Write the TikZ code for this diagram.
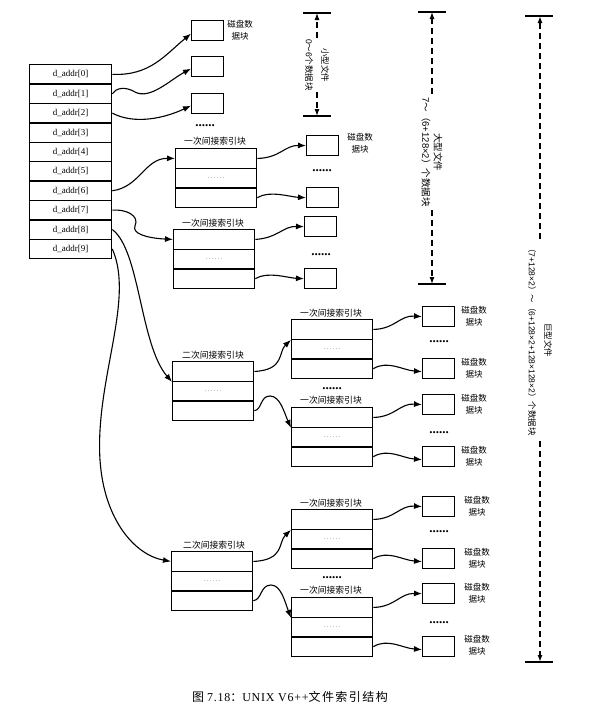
\documentclass[tikz,border=0pt]{standalone}
\usepackage{fontspec}
\setmainfont{Liberation Serif}
\newfontfamily\cjk{Noto Sans CJK SC}
\newfontfamily\latsans{Liberation Sans}
\newfontfamily\capcjk[LetterSpace=12]{Noto Sans CJK SC}
\newfontfamily\caplat[LetterSpace=6]{Liberation Serif}
\usetikzlibrary{arrows.meta}
\tikzset{
  box/.style={draw, line width=1.3pt, inner sep=0pt, anchor=north west},
  cell/.style={box, minimum width=82pt, minimum height=19.4pt, font=\fontsize{9}{10}\selectfont},
  rowc/.style={box, minimum width=81pt, minimum height=19.6pt, font=\fontsize{7}{7}\selectfont, text=gray},
  dblk/.style={box, minimum width=32pt, minimum height=20pt},
  conn/.style={line width=1.1pt, -{Latex[length=8pt,width=6pt]}},
  lbl/.style={font=\cjk\fontsize{8.8}{10}\selectfont, inner sep=0pt},
  dlbl/.style={font=\cjk\fontsize{8.5}{12}\selectfont, align=center, inner sep=0pt},
  bigdots/.style={font=\bfseries\fontsize{13}{13}\selectfont, inner sep=0pt},
  dimtxt/.style={font=\cjk\fontsize{8.5}{12}\selectfont, align=center, rotate=-90, inner sep=3pt},
  dim/.style={dash pattern=on 6pt off 4pt, line width=1.1pt, -{Latex[length=7pt,width=5pt]}},
  bar/.style={line width=1.3pt},
}
\newcommand\idxblk[3]{%
  \node[rowc] (#1-1) at (#2,#3) {};
  \node[rowc] (#1-2) at (#2,{#3+19.6}) {.\,.\,.\,.\,.\,.};
  \node[rowc] (#1-3) at (#2,{#3+39.2}) {};}
\begin{document}
\begin{tikzpicture}[x=1pt,y=-1pt]
\path[fill=white] (0,0) rectangle (602,720);
\useasboundingbox (0,0) rectangle (602,720);

% inode address table
\foreach \i in {0,...,9}
  \node[cell] (a\i) at (29,{64+19.4*\i}) {d\_addr[\i]};

% direct data blocks
\node[dblk] (b0) at (191,20) {};
\node[dblk] (b1) at (191,56) {};
\node[dblk] (b2) at (191,93) {};
\node[dlbl] (lb0) at (240,30) {磁盘数\\据块};
\node[bigdots] (dt0) at (205,126) {......};

% single indirect blocks
\node[lbl] (lI1) at (215,141) {一次间接索引块};
\idxblk{I1}{175}{148}
\node[dblk] (d10) at (306,135) {};
\node[dblk] (d11) at (306,187) {};
\node[dlbl] (ld10) at (360,143) {磁盘数\\据块};
\node[bigdots] (dt1) at (322,171) {......};

\node[lbl] (lI2) at (213,223) {一次间接索引块};
\idxblk{I2}{173}{229}
\node[dblk] (d20) at (304,216) {};
\node[dblk] (d21) at (304,268) {};
\node[bigdots] (dt2) at (321,255) {......};

% double indirect block 1
\node[lbl] (lD1) at (213,355) {二次间接索引块};
\idxblk{D1}{172}{361}
\node[lbl] (lF11) at (331,313) {一次间接索引块};
\idxblk{F11}{291}{319}
\node[lbl] (lF12) at (331,400) {一次间接索引块};
\idxblk{F12}{291}{407}
\node[bigdots] (dt3) at (332,389) {......};
\node[dblk] (e1) at (422,306) {};
\node[dblk] (e2) at (422,358) {};
\node[dblk] (e3) at (422,394) {};
\node[dblk] (e4) at (422,446) {};
\node[dlbl] (le1) at (474,316) {磁盘数\\据块};
\node[dlbl] (le2) at (474,368) {磁盘数\\据块};
\node[dlbl] (le3) at (474,404) {磁盘数\\据块};
\node[dlbl] (le4) at (474,456) {磁盘数\\据块};
\node[bigdots] (dt4) at (439,342) {......};
\node[bigdots] (dt5) at (439,433) {......};

% double indirect block 2
\node[lbl] (lD2) at (214,545) {二次间接索引块};
\idxblk{D2}{171}{551}
\node[lbl] (lF21) at (331,503) {一次间接索引块};
\idxblk{F21}{291}{509}
\node[lbl] (lF22) at (331,590) {一次间接索引块};
\idxblk{F22}{291}{597}
\node[bigdots] (dt6) at (332,578) {......};
\node[dblk] (g1) at (422,496) {};
\node[dblk] (g2) at (422,548) {};
\node[dblk] (g3) at (422,583) {};
\node[dblk] (g4) at (422,636) {};
\node[dlbl] (lg1) at (477,506) {磁盘数\\据块};
\node[dlbl] (lg2) at (477,558) {磁盘数\\据块};
\node[dlbl] (lg3) at (477,593) {磁盘数\\据块};
\node[dlbl] (lg4) at (477,645) {磁盘数\\据块};
\node[bigdots] (dt7) at (439,532) {......};
\node[bigdots] (dt8) at (439,623) {......};

% connectors from the table
\draw[conn] (a0.east) .. controls (150,76) and (165,55) .. ([yshift=-3pt]b0.west);
\draw[conn] (a1.east) .. controls (116,88) and (125,86) .. (135,92) .. controls (150,100) and (170,80) .. ([yshift=-2pt]b1.west);
\draw[conn] (a2.east) .. controls (135,125) and (165,118) .. ([yshift=-2pt]b2.west);
\draw[conn] (a6.east) .. controls (140,187) and (145,158) .. (I1-1.west);
\draw[conn] (a7.east) .. controls (125,209) and (140,215) .. (135,226) .. controls (132,233) and (145,238) .. (I2-1.west);
\draw[conn] (a8.east) .. controls (140,250) and (140,345) .. (D1-1.south west);
\draw[conn] (a9.east) .. controls (135,300) and (95,380) .. (100,460) .. controls (104,520) and (135,555) .. (D2-1.west);

% single indirect to data
\draw[conn] (I1-1.east) .. controls (280,158) and (285,145) .. (d10.west);
\draw[conn] (I1-3.east) .. controls (270,190) and (290,197) .. (d11.west);
\draw[conn] (I2-1.east) .. controls (278,238) and (283,226) .. (d20.west);
\draw[conn] (I2-3.east) .. controls (268,271) and (288,278) .. (d21.west);

% double indirect 1
\draw[conn] (D1-1.east) .. controls (285,370) and (278,352) .. (F11-1.south west);
\draw[conn] (D1-3.east) .. controls (262,410) and (260,396) .. (270,396) .. controls (280,396) and (284,412) .. (F12-1.south west);
\draw[conn] (F11-1.east) .. controls (395,329) and (400,315) .. (e1.west);
\draw[conn] (F11-3.east) .. controls (388,360) and (402,370) .. ([yshift=-3pt]e2.west);
\draw[conn] (F12-1.east) .. controls (395,417) and (400,403) .. (e3.west);
\draw[conn] (F12-3.east) .. controls (388,448) and (402,458) .. ([yshift=-3pt]e4.west);

% double indirect 2
\draw[conn] (D2-1.east) .. controls (285,560) and (278,542) .. (F21-1.south west);
\draw[conn] (D2-3.east) .. controls (262,600) and (260,585) .. (271,585) .. controls (281,585) and (285,602) .. (F22-1.south west);
\draw[conn] (F21-1.east) .. controls (395,519) and (400,505) .. (g1.west);
\draw[conn] (F21-3.east) .. controls (388,550) and (402,560) .. ([yshift=-3pt]g2.west);
\draw[conn] (F22-1.east) .. controls (395,607) and (400,593) .. (g3.west);
\draw[conn] (F22-3.east) .. controls (388,638) and (402,648) .. ([yshift=-3pt]g4.west);

% dimension: small file
\coordinate (sT) at (317,13);
\coordinate (sB) at (317,116);
\draw[bar] ([xshift=-14pt]sT) -- ([xshift=14pt]sT);
\draw[bar] ([xshift=-14pt]sB) -- ([xshift=14pt]sB);
\node[dimtxt, inner sep=1pt] (stx) at (317,65) {小型文件\\[4pt]{\latsans 0}～{\latsans 6}个数据块};
\draw[dim] (stx.west) -- (stx.west |- sT);
\draw[dim] (stx.east) -- (stx.east |- sB);

% dimension: large file
\coordinate (lT) at (432,12);
\coordinate (lB) at (432,284);
\draw[bar] ([xshift=-14pt]lT) -- ([xshift=14pt]lT);
\draw[bar] ([xshift=-14pt]lB) -- ([xshift=14pt]lB);
\node[dimtxt, font=\cjk\fontsize{9.5}{12}\selectfont] (ltx) at (432,152) {大型文件\\{\latsans 7}～（{\latsans 6+128×2}）个数据块};
\draw[dim] (ltx.west) -- (ltx.west |- lT);
\draw[dim] (ltx.east) -- (ltx.east |- lB);

% dimension: huge file
\coordinate (hT) at (539,16);
\coordinate (hB) at (539,662);
\draw[bar] ([xshift=-14pt]hT) -- ([xshift=14pt]hT);
\draw[bar] ([xshift=-14pt]hB) -- ([xshift=14pt]hB);
\node[dimtxt, inner sep=5pt] (htx) at (540,340) {巨型文件\\[4pt]（{\latsans 7+128×2}）～（{\latsans 6+128×2+128×128×2}）个数据块};
\draw[dim, line width=1.7pt] (htx.west) -- (htx.west |- hT);
\draw[dim, line width=1.7pt] (htx.east) -- (htx.east |- hB);

% caption
\node[inner sep=0pt, font=\fontsize{12}{14}\selectfont] (cap) at (290,697)
  {{\capcjk 图}\ {\caplat 7.18}{\capcjk ：}{\caplat UNIX V6++}{\capcjk 文件索引结构}};
\end{tikzpicture}
\end{document}
